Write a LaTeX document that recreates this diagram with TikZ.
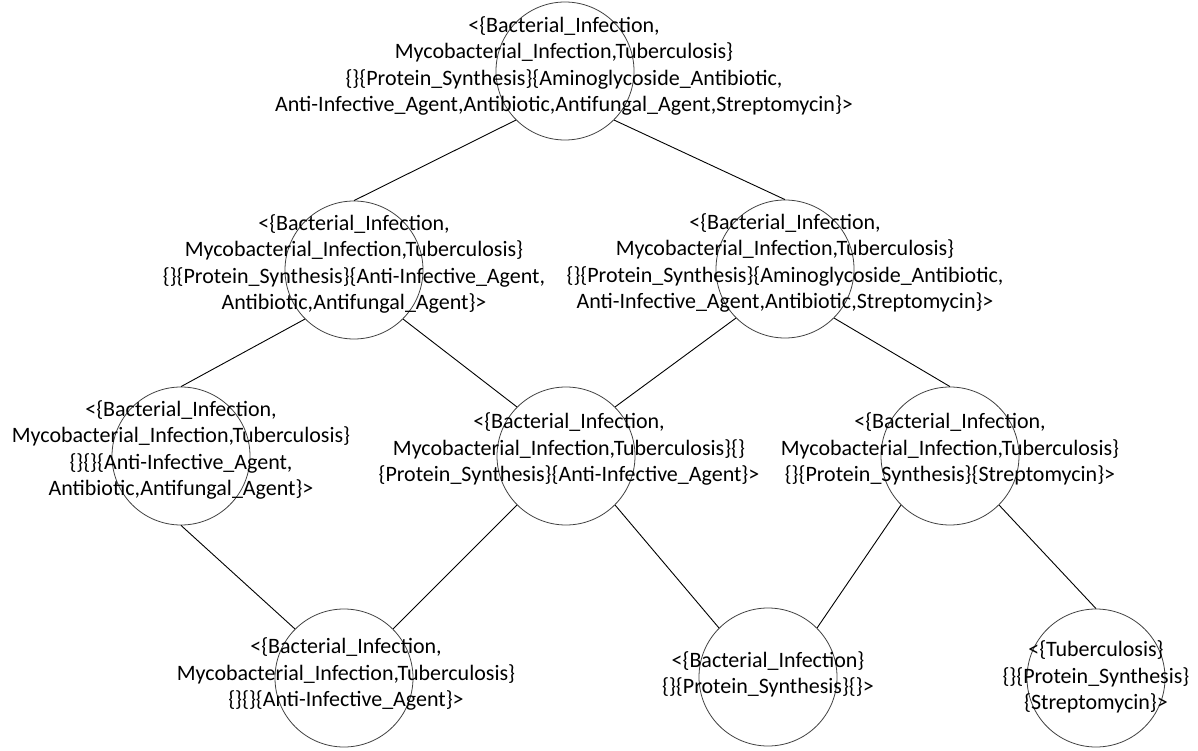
\documentclass[tikz,border=0pt]{standalone}
\usepackage{fontspec}
\setmainfont{Carlito}
\tikzset{
  circ/.style={circle, draw=black!75, line width=0.8pt, minimum size=138pt, inner sep=0pt},
  lbl/.style={align=center, inner sep=0pt, font=\fontsize{22}{26.3}\selectfont},
  edge/.style={draw=black, line width=0.9pt}
}
\begin{document}
\begin{tikzpicture}[x=1pt, y=-1pt]
\useasboundingbox (0,0) rectangle (1198,751);
% circles
\node[circ] (n0) at (565,71) {};
\node[circ] (n1) at (354,270) {};
\node[circ] (n2) at (785,269) {};
\node[circ] (n3) at (181,456) {};
\node[circ] (n4) at (566,456) {};
\node[circ] (n5) at (950,456) {};
\node[circ] (n6) at (344,678) {};
\node[circ] (n7) at (768,677) {};
\node[circ] (n8) at (1096,678) {};
% edges
\draw[edge] (n0.south west) -- (n1.north);
\draw[edge] (n0.south east) -- (n2.north);
\draw[edge] (n1.south west) -- (n3.north);
\draw[edge] (n1.south east) -- (n4.north west);
\draw[edge] (n2.south west) -- (n4.north east);
\draw[edge] (n2.south east) -- (n5.north);
\draw[edge] (n3.south) -- (n6.north west);
\draw[edge] (n4.south west) -- (n6.north east);
\draw[edge] (n4.south east) -- (n7.north west);
\draw[edge] (n5.south west) -- (n7.north east);
\draw[edge] (n5.south east) -- (n8.north);
% labels
\node[lbl] (t0) at (564,66) {<\{Bacterial\_Infection,\\Mycobacterial\_Infection,Tuberculosis\}\\\{\}\{Protein\_Synthesis\}\{Aminoglycoside\_Antibiotic,\\Anti-Infective\_Agent,Antibiotic,Antifungal\_Agent,Streptomycin\}>};
\node[lbl] (t1) at (354,264) {<\{Bacterial\_Infection,\\Mycobacterial\_Infection,Tuberculosis\}\\\{\}\{Protein\_Synthesis\}\{Anti-Infective\_Agent,\\Antibiotic,Antifungal\_Agent\}>};
\node[lbl] (t2) at (785,263) {<\{Bacterial\_Infection,\\Mycobacterial\_Infection,Tuberculosis\}\\\{\}\{Protein\_Synthesis\}\{Aminoglycoside\_Antibiotic,\\Anti-Infective\_Agent,Antibiotic,Streptomycin\}>};
\node[lbl] (t3) at (181,450) {<\{Bacterial\_Infection,\\Mycobacterial\_Infection,Tuberculosis\}\\\{\}\{\}\{Anti-Infective\_Agent,\\Antibiotic,Antifungal\_Agent\}>};
\node[lbl] (t4) at (569,449) {<\{Bacterial\_Infection,\\Mycobacterial\_Infection,Tuberculosis\}\{\}\\\{Protein\_Synthesis\}\{Anti-Infective\_Agent\}>};
\node[lbl] (t5) at (950,449) {<\{Bacterial\_Infection,\\Mycobacterial\_Infection,Tuberculosis\}\\\{\}\{Protein\_Synthesis\}\{Streptomycin\}>};
\node[lbl] (t6) at (346,674) {<\{Bacterial\_Infection,\\Mycobacterial\_Infection,Tuberculosis\}\\\{\}\{\}\{Anti-Infective\_Agent\}>};
\node[lbl] (t7) at (768,674) {<\{Bacterial\_Infection\}\\\{\}\{Protein\_Synthesis\}\{\}>};
\node[lbl] (t8) at (1096,677) {<\{Tuberculosis\}\\\{\}\{Protein\_Synthesis\}\\\{Streptomycin\}>};
\end{tikzpicture}
\end{document}
